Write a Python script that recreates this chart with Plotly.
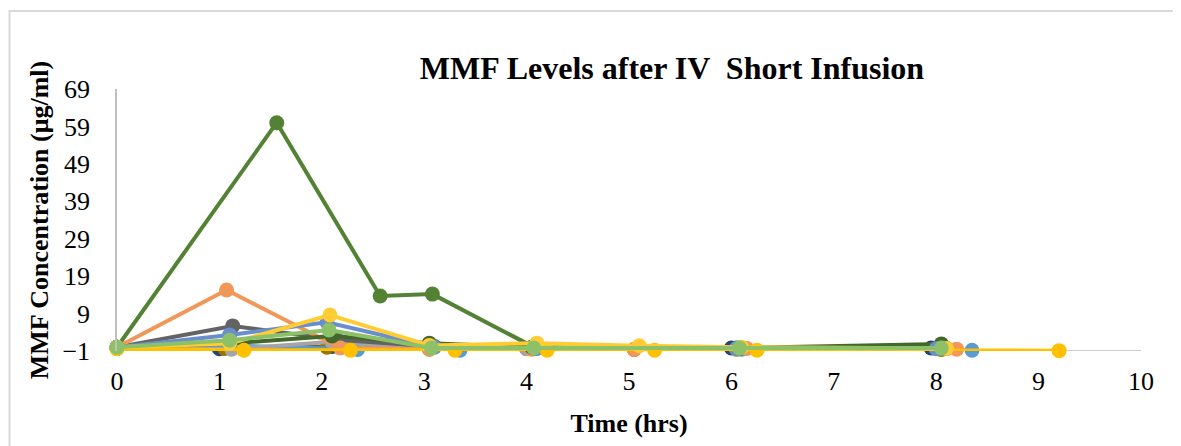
import plotly.graph_objects as go

# ---- data ----
series_colors = ["#264478", "#997300", "#5B9BD5", "#A5A5A5", "#636363", "#F1975A",
                 "#43682B", "#548235", "#698ED0", "#FFC000", "#FFCD33", "#8CC168"]

t1 = [0, 1.0, 2.1, 3.05, 4.0, 6.0, 7.95]
v1 = [0, -0.4, 0.2, -0.3, -0.3, -0.2, -0.2]
t2 = [0, 1.05, 2.05, 3.05, 4.05, 5.05, 6.05, 8.05]
v2 = [-0.3, -0.3, 0.0, -0.4, -0.4, -0.6, -0.5, -0.6]
t3 = [0, 1.1, 2.35, 3.35, 4.2, 6.1, 8.35]
v3 = [0, 0.5, -0.6, -0.8, -0.5, -0.5, -0.8]
t4 = [0, 1.12, 2.1, 3.05, 4.0, 6.05, 8.05]
v4 = [0, -0.5, 1.5, -0.5, -0.4, -0.4, -0.3]
t5 = [0, 1.13, 2.15, 3.1, 4.1, 6.1, 8.1]
v5 = [0, 5.7, 2.0, 0.2, -0.2, -0.2, -0.3]
t6 = [0, 1.07, 2.18, 3.05, 4.05, 5.05, 6.15, 8.2]
v6 = [0, 15.3, -0.2, -0.5, -0.5, -0.6, -0.3, -0.5]
t7 = [0, 1.1, 2.1, 3.05, 4.05, 6.05, 8.05]
v7 = [0, 1.0, 3.0, 1.1, 0.0, -0.2, 0.9]
t8 = [0, 1.56, 2.57, 3.08, 4.08, 6.08, 8.05]
v8 = [0, 60.0, 13.7, 14.2, -0.1, -0.2, -0.2]
t9 = [0, 1.1, 2.05, 3.1, 4.1, 6.05, 8.0]
v9 = [0, 3.3, 6.7, 0.0, -0.3, -0.3, -0.4]
t10 = [0, 1.24, 2.28, 3.3, 4.2, 5.25, 6.25, 9.2]
v10 = [-0.4, -0.8, -0.8, -0.8, -0.8, -0.8, -0.8, -0.9]
t11 = [0, 1.1, 2.08, 3.05, 4.1, 5.1, 6.1, 8.1]
v11 = [0, 1.0, 8.6, 0.5, 1.1, 0.4, 0.0, -0.3]
t12 = [0, 1.1, 2.07, 3.07, 4.07, 6.08, 8.05]
v12 = [0, 1.9, 4.6, -0.2, -0.2, -0.2, -0.2]

times = [t1, t2, t3, t4, t5, t6, t7, t8, t9, t10, t11, t12]
values = [v1, v2, v3, v4, v5, v6, v7, v8, v9, v10, v11, v12]

y_ticks = [-1, 9, 19, 29, 39, 49, 59, 69]
x_ticks = [0, 1, 2, 3, 4, 5, 6, 7, 8, 9, 10]

fig = go.Figure()
for t, v, c in zip(times, values, series_colors):
    fig.add_trace(go.Scatter(x=t, y=v, mode="lines+markers",
                             line=dict(color=c, width=4),
                             marker=dict(color=c, size=15),
                             showlegend=False, cliponaxis=False))

font_fam = "Liberation Serif, Times New Roman, serif"
W, H = 1181, 446
OFF = 8  # page body offset
ml, mr, mt, mb = 117 - OFF, 40 + OFF, 89 - OFF, 95 + OFF
pw, ph = W - ml - mr, H - mt - mb

fig.update_layout(
    width=W, height=H,
    margin=dict(l=ml, r=mr, t=mt, b=mb),
    paper_bgcolor="white", plot_bgcolor="white",
    font=dict(family=font_fam, size=26, color="black"),
    title=dict(text="<b>MMF Levels after IV  Short Infusion</b>",
               x=(672 - OFF) / W, xanchor="center", y=1 - (68 - OFF) / H, yanchor="middle",
               font=dict(family=font_fam, size=32, color="black")),
    xaxis=dict(range=[0, 10], tickvals=x_ticks, showgrid=False, zeroline=False,
               showline=False, ticks="", tickfont=dict(size=26), ticklabelstandoff=12,
               title=dict(text="<b>Time (hrs)</b>", font=dict(size=26), standoff=18)),
    yaxis=dict(range=[-1, 69], tickvals=y_ticks, showgrid=False, zeroline=False,
               showline=True, linecolor="#BFBFBF", linewidth=1.5, ticks="",
               tickfont=dict(size=26), ticklabelstandoff=20,
               title=dict(text="<b>MMF Concentration (μg/ml)</b>", font=dict(size=26), standoff=6)),
)

# x axis line at y = -1 (drawn beneath markers)
fig.add_shape(type="line", xref="x", yref="y", x0=0, x1=10, y0=-1, y1=-1,
              line=dict(color="#BFBFBF", width=1.5), layer="below")

# chart border (left and top edges visible)
fig.add_shape(type="rect", xref="paper", yref="paper",
              x0=(9.5 - OFF - ml) / pw, x1=(W + 80 - ml) / pw,
              y0=1 - (H + 80 - mt) / ph, y1=1 - (11 - OFF - mt) / ph,
              line=dict(color="#D9D9D9", width=2), layer="below")

fig.write_html("out.html")
